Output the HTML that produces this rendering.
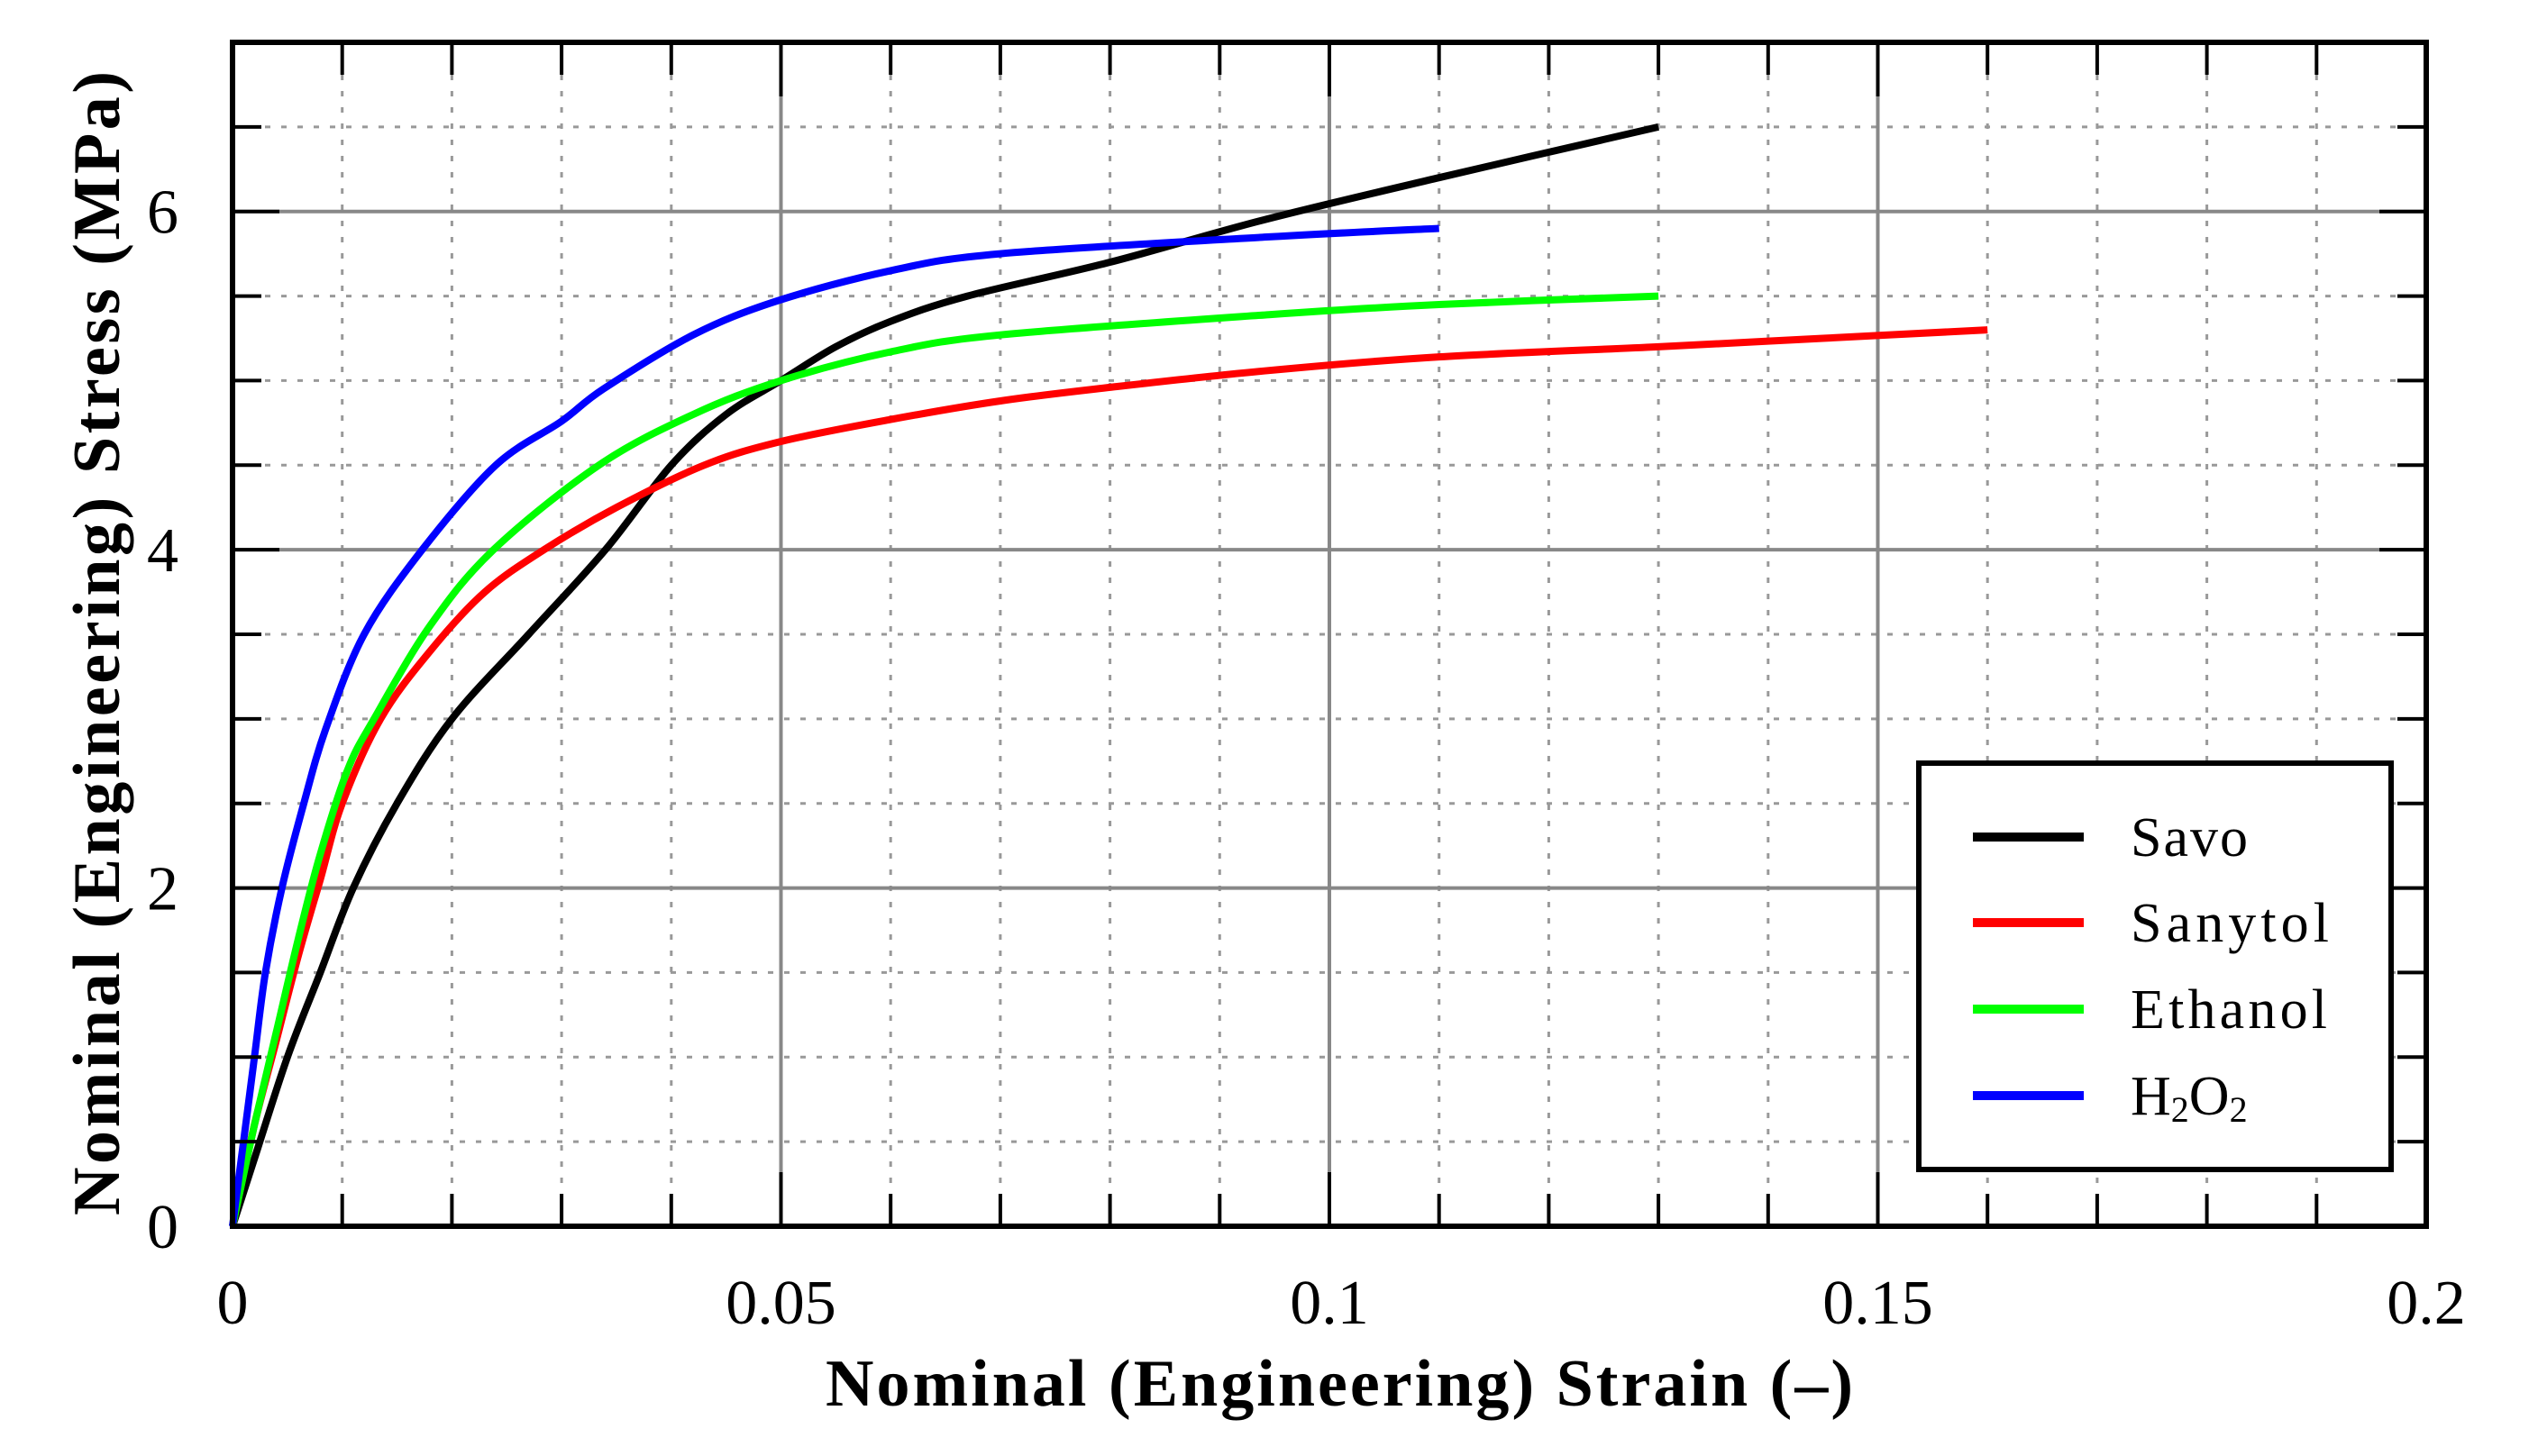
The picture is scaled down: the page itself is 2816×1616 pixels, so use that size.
<!DOCTYPE html>
<html><head><meta charset="utf-8"><style>
html,body{margin:0;padding:0;background:#fff;}
svg{display:block;}
text{font-family:"Liberation Serif",serif;fill:#000;}
</style></head><body>
<svg id="chart" width="2816" height="1616" viewBox="0 0 2816 1616" xmlns="http://www.w3.org/2000/svg">
<g id="grid"></g>
<g id="series"></g>
<g id="axes"></g>
<g id="legend">
  <rect x="2129" y="847" width="524" height="451" fill="#fff" stroke="#000" stroke-width="6"/>
  <line x1="2189" x2="2312" y1="929" y2="929" stroke="#000" stroke-width="10"/>
  <text x="2364" y="950" font-size="62" textLength="130">Savo</text>
  <line x1="2189" x2="2312" y1="1024" y2="1024" stroke="#ff0000" stroke-width="10"/>
  <text x="2364" y="1045" font-size="62" textLength="220">Sanytol</text>
  <line x1="2189" x2="2312" y1="1120" y2="1120" stroke="#00ff00" stroke-width="10"/>
  <text x="2364" y="1141" font-size="62" textLength="218">Ethanol</text>
  <line x1="2189" x2="2312" y1="1216" y2="1216" stroke="#0000ff" stroke-width="10"/>
  <text x="2364" y="1237" font-size="62">H<tspan font-size="40" dy="8">2</tspan><tspan dy="-8">O</tspan><tspan font-size="40" dy="8">2</tspan></text>
</g>
<text x="1486" y="1560" font-size="74" font-weight="bold" text-anchor="middle" textLength="1140">Nominal (Engineering) Strain (–)</text>
<text x="0" y="0" font-size="74" font-weight="bold" text-anchor="middle" textLength="1270" transform="translate(132,714) rotate(-90)">Nominal (Engineering) Stress (MPa)</text>
</svg>
<script>
const xTicks=[0,0.05,0.1,0.15,0.2];
const xTickLabels=["0","0.05","0.1","0.15","0.2"];
const yTicks=[0,2,4,6];
const yTickLabels=["0","2","4","6"];
const seriesNames=["Savo","Sanytol","Ethanol","H2O2"];
const seriesColors=["#000000","#ff0000","#00ff00","#0000ff"];
const savoX=[0,0.002,0.005,0.008,0.011,0.015,0.02,0.027,0.034,0.04,0.045,0.05,0.055,0.06,0.067,0.08,0.094,0.11,0.13];
const savoY=[0,0.4,1.0,1.5,2.0,2.5,3.0,3.5,4.0,4.5,4.8,5.0,5.2,5.35,5.5,5.7,5.95,6.2,6.5];
const sanytolX=[0,0.002,0.004,0.006,0.008,0.01,0.0135,0.018,0.023,0.0284,0.035,0.043,0.05,0.06,0.07,0.08,0.0945,0.11,0.13,0.145,0.16];
const sanytolY=[0,0.6,1.1,1.6,2.05,2.5,3.0,3.4,3.75,4.0,4.25,4.5,4.64,4.77,4.88,4.96,5.06,5.14,5.2,5.25,5.3];
const ethanolX=[0,0.002,0.004,0.006,0.008,0.0105,0.0129,0.018,0.0238,0.0334,0.042,0.05,0.06,0.07,0.0945,0.11,0.13];
const ethanolY=[0,0.6,1.15,1.7,2.2,2.7,3.0,3.55,4.0,4.5,4.8,5.0,5.17,5.27,5.39,5.45,5.5];
const h2o2X=[0,0.001,0.002,0.003,0.0045,0.0065,0.0085,0.012,0.0173,0.024,0.03,0.0338,0.042,0.0496,0.06,0.07,0.0945,0.11];
const h2o2Y=[0,0.5,1.0,1.5,2.0,2.5,2.94,3.5,4.0,4.5,4.76,4.95,5.27,5.47,5.65,5.75,5.85,5.9];

const X0=258,X1=2692,Y0=1361,Y1=47,XMAX=0.2,YMAX=7;
const sx=v=>X0+(v/XMAX)*(X1-X0);
const sy=v=>Y0-(v/YMAX)*(Y0-Y1);
const NS="http://www.w3.org/2000/svg";
function mk(tag,attrs,parent){const e=document.createElementNS(NS,tag);for(const k in attrs)e.setAttribute(k,attrs[k]);parent.appendChild(e);return e;}
const grid=document.getElementById('grid'),axes=document.getElementById('axes'),ser=document.getElementById('series');
for(let i=1;i<20;i++){const v=i*0.01;if(i%5===0)continue;
 const l=mk('line',{x1:sx(v),x2:sx(v),y1:Y1,y2:Y0,stroke:'#999',"stroke-width":3,"stroke-dasharray":"6 12"},grid);
 
 }
for(let i=1;i<14;i++){const v=i*0.5;if(i%4===0)continue;
 const l=mk('line',{x1:X0,x2:X1,y1:sy(v),y2:sy(v),stroke:'#999',"stroke-width":3,"stroke-dasharray":"6 12"},grid);
 
 }
xTicks.forEach(v=>{if(v===0||v===XMAX)return;
 const l=mk('line',{x1:sx(v),x2:sx(v),y1:Y1,y2:Y0,stroke:'#888',"stroke-width":4},grid);
 
 });
yTicks.forEach(v=>{if(v===0)return;
 const l=mk('line',{x1:X0,x2:X1,y1:sy(v),y2:sy(v),stroke:'#888',"stroke-width":4},grid);
 
 });
function smoothPath(P){let d='M'+P[0][0].toFixed(1)+','+P[0][1].toFixed(1);
 for(let i=0;i<P.length-1;i++){const p0=P[Math.max(i-1,0)],p1=P[i],p2=P[i+1],p3=P[Math.min(i+2,P.length-1)];
  const c1=[p1[0]+(p2[0]-p0[0])/6,p1[1]+(p2[1]-p0[1])/6],c2=[p2[0]-(p3[0]-p1[0])/6,p2[1]-(p3[1]-p1[1])/6];
  d+=' C'+c1.map(v=>v.toFixed(1)).join(',')+' '+c2.map(v=>v.toFixed(1)).join(',')+' '+p2[0].toFixed(1)+','+p2[1].toFixed(1);}
 return d;}
const allX=[savoX,sanytolX,ethanolX,h2o2X],allY=[savoY,sanytolY,ethanolY,h2o2Y];
allX.forEach((xs,s)=>{
 const P=xs.map((x,i)=>[sx(x),sy(allY[s][i])]);
 const p=mk('path',{d:smoothPath(P),fill:'none',stroke:seriesColors[s],"stroke-width":8,"stroke-linejoin":"round"},ser);
 
 
});
for(let i=0;i<=20;i++){const v=i*0.01,major=i%5===0,len=major?60:36;
 [[Y0,Y0-len],[Y1,Y1+len]].forEach(([a,b])=>{
  const t=mk('line',{x1:sx(v),x2:sx(v),y1:a,y2:b,stroke:'#000',"stroke-width":4},axes);
  
  });}
for(let i=0;i<=14;i++){const v=i*0.5,major=i%4===0,len=major?52:32;
 [[X0,X0+len],[X1,X1-len]].forEach(([a,b])=>{
  const t=mk('line',{x1:a,x2:b,y1:sy(v),y2:sy(v),stroke:'#000',"stroke-width":4},axes);
  
  });}
const frame=mk('rect',{x:X0,y:Y1,width:X1-X0,height:Y0-Y1,fill:'none',stroke:'#000',"stroke-width":6},axes);


xTicks.forEach((v,i)=>{const t=mk('text',{x:sx(v),y:1469,"font-size":70,"text-anchor":"middle"},axes);t.textContent=xTickLabels[i];
 
 });
yTicks.forEach((v,i)=>{const t=mk('text',{x:198,y:sy(v)+24,"font-size":70,"text-anchor":"end"},axes);t.textContent=yTickLabels[i];
 
 });
</script>
</body></html>
